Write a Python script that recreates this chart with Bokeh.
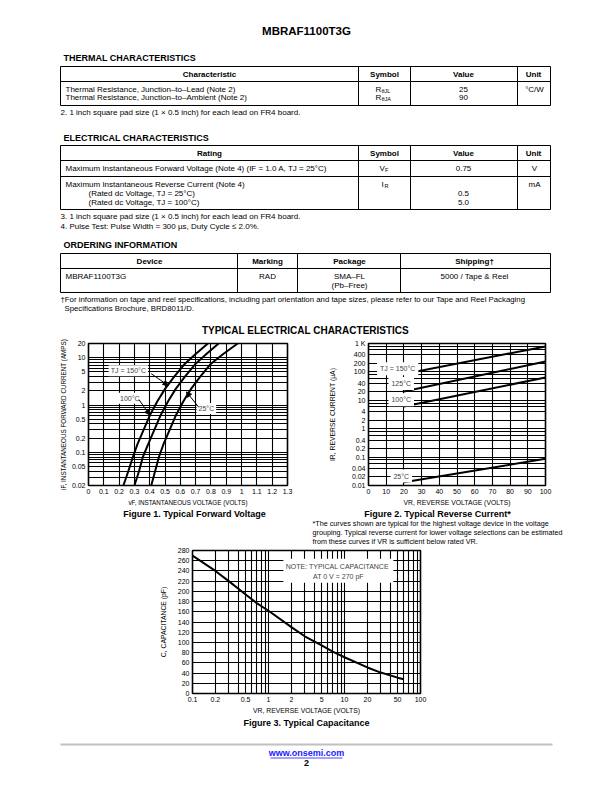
from bokeh.plotting import figure
from bokeh.layouts import column, row
from bokeh.models import Range1d, FixedTicker, Label, Arrow, NormalHead, BoxAnnotation
from bokeh.core.properties import value
from bokeh.embed import file_html
from bokeh.resources import INLINE

# ---------------- data ----------------
# Figure 1: typical forward voltage
fig1_x_ticks = [0, 0.1, 0.2, 0.3, 0.4, 0.5, 0.6, 0.7, 0.8, 0.9, 1.0, 1.1, 1.2, 1.3]
fig1_x_labels = ["0", "0.1", "0.2", "0.3", "0.4", "0.5", "0.6", "0.7", "0.8", "0.9", "1", "1.1", "1.2", "1.3"]
fig1_y_ticks = [0.02, 0.05, 0.1, 0.2, 0.5, 1, 2, 5, 10, 20]
fig1_y_labels = ["0.02", "0.05", "0.1", "0.2", "0.5", "1", "2", "5", "10", "20"]
vf_150 = [0.228, 0.26, 0.29, 0.32, 0.36, 0.40, 0.45, 0.50, 0.56, 0.63, 0.70, 0.78]
if_150 = [0.02, 0.04, 0.08, 0.15, 0.3, 0.6, 1.2, 2.2, 4, 7.5, 12, 20]
vf_100 = [0.30, 0.33, 0.355, 0.39, 0.43, 0.47, 0.52, 0.57, 0.63, 0.70, 0.77, 0.85]
if_100 = [0.02, 0.04, 0.08, 0.15, 0.3, 0.6, 1.2, 2.2, 4, 7.5, 12, 20]
vf_25 = [0.41, 0.435, 0.46, 0.49, 0.53, 0.57, 0.62, 0.67, 0.73, 0.80, 0.88, 0.975]
if_25 = [0.02, 0.04, 0.08, 0.15, 0.3, 0.6, 1.2, 2.2, 4, 7.5, 12, 20]

# Figure 2: typical reverse current (uA)
fig2_x_ticks = [0, 10, 20, 30, 40, 50, 60, 70, 80, 90, 100]
fig2_x_labels = ["0", "10", "20", "30", "40", "50", "60", "70", "80", "90", "100"]
fig2_y_ticks = [0.01, 0.02, 0.04, 0.1, 0.2, 0.4, 1, 2, 4, 10, 20, 40, 100, 200, 400, 1000]
fig2_y_labels = ["0.01", "0.02", "0.04", "0.1", "0.2", "0.4", "1", "2", "4", "10", "20", "40",
                 "100", "200", "400", "1 K"]
vr_ends = [20, 100]
ir_150 = [84, 790]
ir_125 = [20.5, 233]
ir_100 = [6.0, 64]
ir_25 = [0.0131, 0.087]

# Figure 3: typical capacitance
fig3_x_ticks = [0.1, 0.2, 0.5, 1, 2, 5, 10, 20, 50, 100]
fig3_x_labels = ["0.1", "0.2", "0.5", "1", "2", "5", "10", "20", "50", "100"]
fig3_y_ticks = [0, 20, 40, 60, 80, 100, 120, 140, 160, 180, 200, 220, 240, 260, 280]
fig3_y_labels = ["0", "20", "40", "60", "80", "100", "120", "140", "160", "180", "200", "220",
                 "240", "260", "280"]
vr_cap = [0.1, 0.2, 0.3, 0.5, 0.7, 1, 2, 3, 5, 7, 10, 20, 30, 50, 60]
c_cap = [270, 240, 220, 194, 177, 162, 130, 112, 94, 82, 71, 51, 41, 31, 28]

# ---------------- styling helpers ----------------
W = 612
FONT = "Liberation Sans"
BODY = "8px"


def page_fig(h):
    p = figure(width=W, height=h, x_range=Range1d(0, W), y_range=Range1d(h, 0),
               x_axis_type=None, y_axis_type=None, output_backend="svg",
               toolbar_location=None, min_border=0)
    p.grid.visible = False
    p.outline_line_color = None
    return p


def txt(p, x, y, s, size=BODY, bold=False, align="left", font=FONT, color="black"):
    p.text(x=[x], y=[y], text=[s], text_font=value(font), text_font_size=size,
           text_font_style="bold" if bold else "normal", text_align=align,
           text_baseline="middle", text_color=color)


def lines(p, segs, width=1, color="black"):
    p.segment(x0=[s[0] for s in segs], y0=[s[1] for s in segs],
              x1=[s[2] for s in segs], y1=[s[3] for s in segs],
              line_color=color, line_width=width)


def chart(width, height, xr, yr, xt, yt, bl, br, bt, bb, lab_size="6.8px"):
    p = figure(width=width, height=height, x_range=xr, y_range=yr, x_axis_type=xt,
               y_axis_type=yt, output_backend="svg", toolbar_location=None,
               min_border_left=bl, min_border_right=br, min_border_top=bt,
               min_border_bottom=bb)
    p.outline_line_color = "black"
    p.outline_line_width = 1.6
    for ax in p.axis:
        ax.major_tick_line_color = None
        ax.minor_tick_line_color = None
        ax.major_tick_out = 0
        ax.major_tick_in = 0
        ax.minor_tick_out = 0
        ax.minor_tick_in = 0
        ax.axis_line_color = None
        ax.major_label_text_font = FONT
        ax.major_label_text_font_size = "7px"
        ax.major_label_text_color = "black"
        ax.major_label_standoff = 3
        ax.axis_label_text_font = FONT
        ax.axis_label_text_font_size = lab_size
        ax.axis_label_text_font_style = "normal"
        ax.axis_label_text_color = "black"
        ax.axis_label_standoff = 2
    p.grid.grid_line_color = "black"
    p.grid.grid_line_width = 1.1
    p.grid.grid_line_alpha = 1
    return p


def set_ticks(axis, ticks, labels):
    axis.ticker = FixedTicker(ticks=ticks)
    axis.major_label_overrides = {t: l for t, l in zip(ticks, labels)}


def log_grid(lo, hi, mults):
    vals = []
    e = -3
    while 10 ** e <= hi * 1.0001:
        for m in mults:
            v = round(m * 10 ** e, 6)
            if lo * 0.9999 <= v <= hi * 1.0001:
                vals.append(v)
        e += 1
    return vals


def label(p, x, y, s, pad=2):
    p.add_layout(Label(x=x, y=y, text=s, text_font=FONT, text_font_size="7px",
                       text_align="center", text_baseline="middle",
                       background_fill_color="white", padding=pad))


def arrow(p, xs, ys, xe, ye):
    p.add_layout(Arrow(end=NormalHead(size=5, line_color="black", fill_color="black"),
                       x_start=xs, y_start=ys, x_end=xe, y_end=ye,
                       line_color="black", line_width=1))


# ---------------- top page part ----------------
TOP_H = 336
top = page_fig(TOP_H)
txt(top, 306, 30, "MBRAF1100T3G", size="11.5px", bold=True, align="center")

L, R = 60, 550
HDR = "8px"
# Thermal table
txt(top, 63, 57, "THERMAL CHARACTERISTICS", size="9px", bold=True)
lines(top, [(L, 66, R, 66), (L, 81, R, 81), (L, 105, R, 105), (L, 66, L, 105), (R, 66, R, 105),
            (358, 66, 358, 105), (410, 66, 410, 105), (517, 66, 517, 105)])
txt(top, 209, 73.5, "Characteristic", size=HDR, bold=True, align="center")
txt(top, 384, 73.5, "Symbol", size=HDR, bold=True, align="center")
txt(top, 463, 73.5, "Value", size=HDR, bold=True, align="center")
txt(top, 533, 73.5, "Unit", size=HDR, bold=True, align="center")
txt(top, 65, 89, "Thermal Resistance, Junction\u2013to\u2013Lead (Note 2)")
txt(top, 65, 97, "Thermal Resistance, Junction\u2013to\u2013Ambient (Note 2)")
txt(top, 375, 88.5, "R")
txt(top, 381, 90.5, "\u03b8JL", size="5.5px")
txt(top, 375, 96.5, "R")
txt(top, 381, 98.5, "\u03b8JA", size="5.5px")
txt(top, 463, 88.5, "25", align="center")
txt(top, 463, 96.5, "90", align="center")
txt(top, 534, 88.5, "\u00b0C/W", align="center")
txt(top, 60, 112, "2.  1 inch square pad size (1 \u00d7 0.5 inch) for each lead on FR4 board.")

# Electrical table
txt(top, 63, 137, "ELECTRICAL CHARACTERISTICS", size="9px", bold=True)
lines(top, [(L, 145, R, 145), (L, 160, R, 160), (L, 176, R, 176), (L, 209, R, 209),
            (L, 145, L, 209), (R, 145, R, 209),
            (358, 145, 358, 209), (410, 145, 410, 209), (517, 145, 517, 209)])
txt(top, 209, 152.5, "Rating", size=HDR, bold=True, align="center")
txt(top, 384, 152.5, "Symbol", size=HDR, bold=True, align="center")
txt(top, 463, 152.5, "Value", size=HDR, bold=True, align="center")
txt(top, 533, 152.5, "Unit", size=HDR, bold=True, align="center")
txt(top, 65, 168, "Maximum Instantaneous Forward Voltage (Note 4) (IF = 1.0 A, TJ = 25\u00b0C)")
txt(top, 379, 168, "V")
txt(top, 384.5, 169.5, "F", size="5.5px")
txt(top, 463, 168, "0.75", align="center")
txt(top, 534, 168, "V", align="center")
txt(top, 65, 184, "Maximum Instantaneous Reverse Current (Note 4)")
txt(top, 88, 193, "(Rated dc Voltage, TJ = 25\u00b0C)")
txt(top, 88, 202, "(Rated dc Voltage, TJ = 100\u00b0C)")
txt(top, 381, 184, "I")
txt(top, 384, 185.5, "R", size="5.5px")
txt(top, 463, 193, "0.5", align="center")
txt(top, 463, 202, "5.0", align="center")
txt(top, 534, 184, "mA", align="center")
txt(top, 60, 216, "3.  1 inch square pad size (1 \u00d7 0.5 inch) for each lead on FR4 board.")
txt(top, 60, 226, "4.  Pulse Test: Pulse Width = 300 \u00b5s, Duty Cycle \u2264 2.0%.")

# Ordering table
txt(top, 63, 244, "ORDERING INFORMATION", size="9px", bold=True)
lines(top, [(L, 253, R, 253), (L, 268, R, 268), (L, 292, R, 292), (L, 253, L, 292), (R, 253, R, 292),
            (237, 253, 237, 292), (297, 253, 297, 292), (400, 253, 400, 292)])
txt(top, 149, 260.5, "Device", size=HDR, bold=True, align="center")
txt(top, 267, 260.5, "Marking", size=HDR, bold=True, align="center")
txt(top, 349, 260.5, "Package", size=HDR, bold=True, align="center")
txt(top, 474, 260.5, "Shipping\u2020", size=HDR, bold=True, align="center")
txt(top, 65, 276, "MBRAF1100T3G")
txt(top, 267, 276, "RAD", align="center")
txt(top, 349, 276, "SMA\u2013FL", align="center")
txt(top, 349, 285, "(Pb\u2013Free)", align="center")
txt(top, 474, 276, "5000 / Tape & Reel", align="center")
txt(top, 60, 299, "\u2020For information on tape and reel specifications, including part orientation and "
                  "tape sizes, please refer to our Tape and Reel Packaging", size="7.8px")
txt(top, 64, 308, "Specifications Brochure, BRD8011/D.", size="7.8px")
txt(top, 305, 330, "TYPICAL ELECTRICAL CHARACTERISTICS", size="10px", bold=True, align="center")

# ---------------- Figure 1 ----------------
ROW_H = 172
f1 = chart(306, ROW_H, Range1d(0, 1.3), Range1d(0.02, 20), "linear", "log", 88, 19, 7, 19,
           lab_size="6.3px")
set_ticks(f1.xaxis[0], fig1_x_ticks, fig1_x_labels)
set_ticks(f1.yaxis[0], fig1_y_ticks, fig1_y_labels)
f1.xgrid[0].ticker = FixedTicker(ticks=fig1_x_ticks)
f1.ygrid[0].ticker = FixedTicker(ticks=log_grid(0.02, 20, [1, 2, 3, 4, 5, 6, 7, 8, 9]))
f1.xaxis[0].axis_label = "vF, INSTANTANEOUS VOLTAGE (VOLTS)"
f1.yaxis[0].axis_label = "iF, INSTANTANEOUS FORWARD CURRENT (AMPS)"
for xs, ys in ((vf_150, if_150), (vf_100, if_100), (vf_25, if_25)):
    f1.line(xs, ys, line_color="black", line_width=2)
label(f1, 0.26, 5.3, "TJ = 150\u00b0C")
arrow(f1, 0.41, 4.6, 0.52, 2.6)
label(f1, 0.27, 1.4, "100\u00b0C")
arrow(f1, 0.33, 1.3, 0.40, 0.62)
label(f1, 0.77, 0.85, "25\u00b0C")
arrow(f1, 0.72, 0.9, 0.64, 1.9)

# ---------------- Figure 2 ----------------
f2 = chart(306, ROW_H, Range1d(0, 100), Range1d(0.01, 1000), "linear", "log", 62, 67, 6, 22)
set_ticks(f2.xaxis[0], fig2_x_ticks, fig2_x_labels)
set_ticks(f2.yaxis[0], fig2_y_ticks, fig2_y_labels)
f2.xgrid[0].ticker = FixedTicker(ticks=fig2_x_ticks)
f2.ygrid[0].ticker = FixedTicker(ticks=log_grid(0.01, 1000, [1, 2, 4, 6, 8]))
f2.xaxis[0].axis_label = "VR, REVERSE VOLTAGE (VOLTS)"
f2.yaxis[0].axis_label = "IR, REVERSE CURRENT (\u00b5A)"
f2.yaxis[0].axis_label_standoff = 13
for ys in (ir_150, ir_125, ir_100, ir_25):
    f2.line(vr_ends, ys, line_color="black", line_width=2)
label(f2, 16.5, 130, "TJ = 150\u00b0C", pad=3)
label(f2, 18.5, 39, "125\u00b0C", pad=3)
label(f2, 18.5, 10.5, "100\u00b0C", pad=3)
label(f2, 18.5, 0.0215, "25\u00b0C", pad=3)

# ---------------- middle: captions + note ----------------
MID_H = 38
mid = page_fig(MID_H)
txt(mid, 194, 5, "Figure 1. Typical Forward Voltage", size="9px", bold=True, align="center")
txt(mid, 437, 5, "Figure 2. Typical Reverse Current*", size="9px", bold=True, align="center")
txt(mid, 312, 15, "*The curves shown are typical for the highest voltage device in the voltage",
    size="7.2px")
txt(mid, 312, 24, "grouping. Typical reverse current for lower voltage selections can be estimated",
    size="7.2px")
txt(mid, 312, 33, "from these curves if VR is sufficient below rated VR.", size="7.2px")

# ---------------- Figure 3 ----------------
F3_H = 170
f3 = chart(W, F3_H, Range1d(0.1, 100), Range1d(0, 280), "log", "linear", 192, 192, 4, 23)
set_ticks(f3.xaxis[0], fig3_x_ticks, fig3_x_labels)
set_ticks(f3.yaxis[0], fig3_y_ticks, fig3_y_labels)
f3.xgrid[0].ticker = FixedTicker(ticks=log_grid(0.1, 100, [1, 2, 3, 4, 5, 6, 7, 8, 9]))
f3.ygrid[0].ticker = FixedTicker(ticks=fig3_y_ticks)
f3.xaxis[0].axis_label = "VR, REVERSE VOLTAGE (VOLTS)"
f3.yaxis[0].axis_label = "C, CAPACITANCE (pF)"
f3.yaxis[0].axis_label_standoff = 8
f3.line(vr_cap, c_cap, line_color="black", line_width=2)
f3.add_layout(BoxAnnotation(left=1.57, right=44, bottom=217, top=264, fill_color="white",
                            fill_alpha=1, line_color=None))
f3.add_layout(Label(x=8.3, y=249, text="NOTE:  TYPICAL CAPACITANCE", text_font=FONT,
                    text_font_size="7px", text_align="center", text_baseline="middle"))
f3.add_layout(Label(x=8.3, y=229, text="AT 0 V = 270 pF", text_font=FONT,
                    text_font_size="7px", text_align="center", text_baseline="middle"))

# ---------------- bottom ----------------
BOT_H = 792 - TOP_H - ROW_H - MID_H - F3_H
bot = page_fig(BOT_H)
txt(bot, 306, 6, "Figure 3. Typical Capacitance", size="9px", bold=True, align="center")
lines(bot, [(60, 28, 552, 28)], width=2, color="#c0c0c0")
txt(bot, 306, 36, "www.onsemi.com", size="9px", bold=True, align="center", color="#1a1aff")
lines(bot, [(270, 41.5, 342, 41.5)], width=0.8, color="#1a1aff")
txt(bot, 306, 46, "2", size="9px", bold=True, align="center")

layout = column(row(top), row(f1, f2), row(mid), row(f3), row(bot))
open("out.html", "w").write(file_html(layout, INLINE))
